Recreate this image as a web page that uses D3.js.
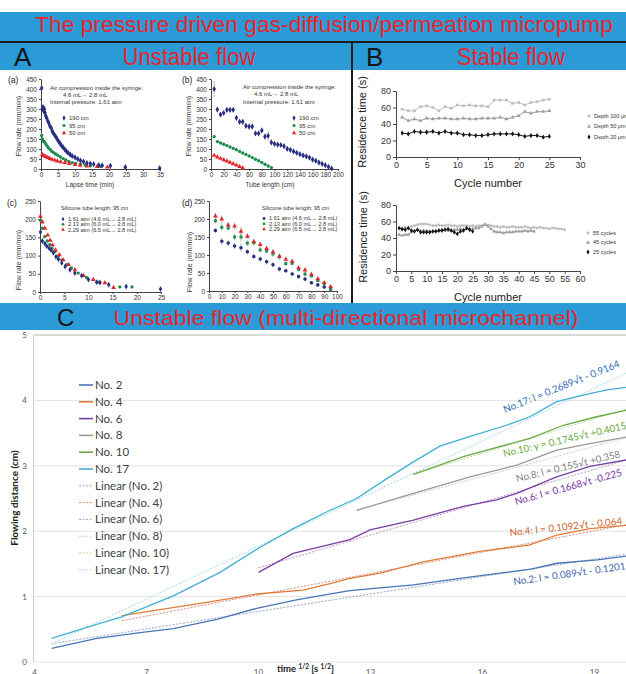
<!DOCTYPE html>
<html>
<head>
<meta charset="utf-8">
<script src="https://cdn.jsdelivr.net/npm/d3@7"></script>
<style>
body { margin: 0; background: #fff; }
svg { display: block; }
text { font-family: "Liberation Sans", Arial, sans-serif; }
.cfont { font-family: Lato, "Open Sans", sans-serif; }
</style>
</head>
<body>
<div id="chart"></div>
<script>
// ---------- panel A (a): flow rate vs lapse time ----------
const a190 = [[0.2,405],[0.4,300],[0.6,310],[0.8,290],[1.0,300],[1.2,280],[1.4,265],[1.7,255],[2.0,240],[2.3,230],[2.6,215],[3.0,205],[3.3,190],[3.6,180],[4.0,170],[4.4,160],[4.8,148],[5.2,138],[5.6,128],[6.0,118],[6.5,108],[7.0,98],[7.5,88],[8.0,80],[8.6,72],[9.2,65],[10.0,58],[10.8,50],[11.6,42],[12.5,37],[13.5,30],[14.5,27],[15.5,24],[17.0,20],[18.0,18],[20.4,16],[24.8,10],[34.9,4]];
const a95 = [[0.2,168],[0.4,150],[0.7,140],[1.0,135],[1.4,125],[1.8,115],[2.2,105],[2.7,97],[3.2,88],[3.7,82],[4.3,75],[5.0,68],[5.7,60],[6.5,52],[7.3,45],[8.2,38],[9.2,32],[10.2,28],[11.6,24],[13.0,20],[14.5,16],[17.5,12],[24.8,8]];
const a50 = [[0.4,72],[0.9,66],[1.4,62],[2.0,57],[2.6,52],[3.2,48],[4.0,44],[4.8,40],[5.8,36],[7.0,32],[8.3,27],[10.0,22],[11.5,18],[13.5,15],[16.5,12],[19.5,9]];
const aLegend = ['190 cm', '95 cm', '50 cm'];
const aNotes = ['Air compression inside the syringe:', '4.6 mL\u2192 2.8 mL', 'Internal pressure: 1.61 atm'];

// ---------- panel A (b): flow rate vs tube length ----------
const bLen190 = [5,10,15,20,25,30,35,40,45,50,55,60,65,70,75,80,85,90,95,100,105,110,115,120,125,130,135,140,145,150,155,160,165,170,175,180,185,190];
const b190 = [400,297,272,280,296,296,296,256,236,236,216,212,212,178,178,193,162,166,133,126,122,120,114,101,96,88,81,74,68,63,57,47,41,32,26,19,11,3];
const b190err = [40,0,0,5,8,8,8,12,14,14,12,15,15,10,10,12,15,25,14,8,6,6,5,5,5,4,4,4,3,3,3,3,3,2,2,2,2,2];
const bLen95 = [5,10,15,20,25,30,35,40,45,50,55,60,65,70,75,80,85,90,95];
const b95 = [162,137,130,124,117,110,103,96,88,80,73,65,57,49,41,33,24,15,7];
const bLen50 = [5,10,15,20,25,30,35,40,45,50];
const b50 = [68,60,53,46,40,33,26,19,12,5];

// ---------- panel A (c): flow rate vs lapse time, 3 pressures ----------
const c161 = [[0.1,165],[0.5,140],[1,133],[1.4,126],[1.9,120],[2.3,115],[2.75,108],[3.3,97],[3.8,90],[4.5,80],[5.2,70],[6.2,61],[7.2,52],[8.6,45],[10,34],[11.7,27],[12.4,26],[14.2,20],[17.8,15],[24.9,8]];
const c213 = [[0.1,197],[0.5,175],[1,152],[1.5,140],[2,130],[2.5,120],[3.1,111],[3.8,99],[4.5,88],[5.5,75],[6.5,66],[7.9,52],[9.6,40],[12,27],[16.5,14],[19,14]];
const c229 = [[0.1,208],[0.5,192],[1,175],[1.6,156],[2.1,142],[2.6,129],[3.2,115],[4,102],[4.8,88],[5.9,75],[7.2,61],[9,45],[11,34],[13.4,25],[15.2,12]];
const cdLegend = ['1.61 atm (4.6 mL\u2192 2.8 mL)', '2.13 atm (6.0 mL\u2192 2.8 mL)', '2.29 atm (6.5 mL\u2192 2.8 mL)'];
const cdNote = 'Silicone tube length: 95 cm';

// ---------- panel A (d): flow rate vs tube length, 3 pressures ----------
const dLen = [5,10,15,20,25,30,35,40,45,50,55,60,65,70,75,80,85,90,95];
const d161 = [168,138,133,125,120,109,96,89,81,73,61,56,47,40,33,23,17,11,5];
const d213 = [195,177,175,150,150,133,134,114,111,103,95,76,77,60,47,42,29,20,7];
const d229 = [208,200,183,180,166,152,137,129,118,108,96,88,82,64,58,46,34,23,12];
const dErr = [8,10,8,10,12,8,8,8,8,8,8,6,6,6,6,5,5,5,4];

// ---------- panel B: residence time vs cycle number ----------
const depth100 = [58,56,56,61,62,60,56,61,59,63,62,63,62,62,61,69,69,69,65,66,63,66,67,69,70];
const depth50 = [48,44,46,44,47,46,47,47,46,46,47,46,46,47,47,47,48,46,48,50,55,53,55,55,56];
const depth20 = [29,28,31,30,30,31,29,31,29,29,27,27,26,26,27,28,28,28,28,27,25,26,26,24,25];
const depthLegend = ['Depth 100 \u03bcm', 'Depth 50 \u03bcm', 'Depth 20 \u03bcm'];
const cyc55 = [52,50,53,52,54,55,56,57,57,57,56,55,55,56,55,55,56,55,55,54,55,55,55,54,55,54,55,55,57,56,55,54,54,53,54,53,53,54,53,53,53,54,53,52,53,52,53,52,52,51,52,52,51,51,50];
const cyc45 = [44,43,44,44,47,49,50,49,49,49,48,48,49,49,50,50,49,49,50,50,51,50,51,51,51,52,52,54,56,54,51,48,47,47,46,47,47,47,48,48,48,49,48,49,48];
const cyc25 = [52,51,50,52,49,48,50,47,47,47,47,48,48,49,49,50,51,49,47,45,48,49,52,50,48];
const cycLegend = ['55 cycles', '45 cycles', '25 cycles'];

// ---------- panel C: flowing distance vs sqrt(time) ----------
const no2 = [[4.46,0.21],[5.67,0.36],[6.83,0.45],[7.72,0.51],[8.88,0.65],[9.95,0.82],[11.02,0.95],[11.93,1.04],[12.45,1.09],[14.15,1.18],[15.7,1.30],[17.3,1.42],[18.0,1.51],[19.08,1.56],[19.86,1.62]];
const no4 = [[6.34,0.71],[7.45,0.81],[8.70,0.92],[9.95,1.04],[11.2,1.10],[11.92,1.20],[12.45,1.28],[13.26,1.36],[14.41,1.53],[15.93,1.69],[17.27,1.79],[17.99,1.94],[18.88,2.04],[19.86,2.09]];
const no6 = [[10.0,1.37],[10.93,1.66],[12.45,1.87],[12.99,2.02],[14.15,2.17],[15.49,2.38],[16.38,2.48],[16.92,2.58],[17.99,2.83],[18.88,2.99],[19.86,3.09]];
const no8 = [[12.63,2.32],[14.15,2.58],[15.67,2.83],[16.92,3.01],[17.99,3.24],[18.88,3.34],[19.86,3.44]];
const no10 = [[14.15,2.87],[15.49,3.14],[17.27,3.42],[18.17,3.62],[19.06,3.75],[19.86,3.85]];
const no17 = [[4.46,0.36],[5.40,0.53],[6.34,0.69],[7.72,1.01],[8.97,1.37],[10.0,1.74],[10.93,2.04],[11.92,2.32],[12.63,2.50],[13.43,2.80],[14.15,3.06],[14.86,3.30],[15.67,3.45],[16.65,3.62],[17.27,3.75],[17.99,3.98],[18.7,4.08],[19.33,4.16],[19.86,4.20]];
// trend lines, end points
const lin2 = [[4.46,0.28],[19.86,1.65]];
const lin4 = [[6.34,0.63],[19.86,2.10]];
const lin6 = [[10.0,1.44],[19.86,3.09]];
const lin8 = [[12.63,2.32],[19.86,3.43]];
const lin10 = [[14.15,2.87],[19.86,3.87]];
const lin17 = [[4.46,0.28],[19.86,4.42]];
const cNames = ['No. 2','No. 4','No. 6','No. 8','No. 10','No. 17'];
const cEquations = ['No.17: l = 0.2689\u221at  - 0.9164', 'No.10: y = 0.1745\u221at  +0.4015', 'No.8: l = 0.155\u221at  +0.358', 'No.6: l = 0.1668\u221at  -0.225', 'No.4: l = 0.1092\u221at  - 0.064', 'No.2: l = 0.089\u221at  - 0.1201'];
const cXTicks = [4,7,10,13,16,19];
const cYTicks = [0,1,2,3,4,5];

const W = 626, H = 674;
const blue = '#2B9BD8', red = '#E8262B';
const navy = '#2A2E80', green = '#1B8C4B', redm = '#E4262C';

const svg = d3.select('#chart').append('svg').attr('width', W).attr('height', H);

// ---------- banners ----------
svg.append('rect').attr('x',0).attr('y',12).attr('width',W).attr('height',29).attr('fill',blue);
svg.append('rect').attr('x',0).attr('y',41).attr('width',W).attr('height',2).attr('fill','#1d1d1f');
svg.append('rect').attr('x',0).attr('y',43).attr('width',W).attr('height',27).attr('fill',blue);
svg.append('rect').attr('x',0).attr('y',303).attr('width',W).attr('height',27).attr('fill',blue);
svg.append('line').attr('x1',352).attr('x2',352).attr('y1',41).attr('y2',303).attr('stroke','#1d1d1f').attr('stroke-width',2);

svg.append('text').attr('x',324).attr('y',32).attr('text-anchor','middle').attr('font-size',22)
   .attr('fill',red).attr('textLength',578).attr('lengthAdjust','spacingAndGlyphs')
   .text('The pressure driven gas-diffusion/permeation micropump');
svg.append('text').attr('x',14).attr('y',66).attr('font-size',26).attr('fill','#151515').text('A');
svg.append('text').attr('x',189).attr('y',65).attr('text-anchor','middle').attr('font-size',23)
   .attr('fill',red).attr('textLength',133).attr('lengthAdjust','spacingAndGlyphs').text('Unstable flow');
svg.append('text').attr('x',366).attr('y',66).attr('font-size',26).attr('fill','#151515').text('B');
svg.append('text').attr('x',511).attr('y',65).attr('text-anchor','middle').attr('font-size',23)
   .attr('fill',red).attr('textLength',108).attr('lengthAdjust','spacingAndGlyphs').text('Stable flow');
svg.append('text').attr('x',57).attr('y',326).attr('font-size',24).attr('fill','#151515').text('C');
svg.append('text').attr('x',346).attr('y',325).attr('text-anchor','middle').attr('font-size',21)
   .attr('fill',red).attr('textLength',465).attr('lengthAdjust','spacingAndGlyphs')
   .text('Unstable flow (multi-directional microchannel)');

// ---------- helpers ----------
function smallPanel(o) {
  const x = d3.scaleLinear().domain(o.xDom).range([o.left, o.right]);
  const y = d3.scaleLinear().domain(o.yDom).range([o.bottom, o.top]);
  const g = svg.append('g');
  g.append('g').attr('transform','translate(0,' + o.bottom + ')')
   .call(d3.axisBottom(x).tickValues(o.xTicks).tickSize(o.tick || 2).tickSizeOuter(0).tickPadding(1.5))
   .call(s => s.selectAll('text').attr('font-size', o.fs).attr('fill','#333').attr('font-family','Liberation Sans, Arial'))
   .call(s => s.selectAll('line,path').attr('stroke','#444'));
  g.append('g').attr('transform','translate(' + o.left + ',0)')
   .call(d3.axisLeft(y).tickValues(o.yTicks).tickSize(o.tick || 2).tickSizeOuter(0).tickPadding(2))
   .call(s => s.selectAll('text').attr('font-size', o.fs).attr('fill','#333').attr('font-family','Liberation Sans, Arial'))
   .call(s => s.selectAll('line,path').attr('stroke','#444'));
  return {x: x, y: y, g: g};
}

function marks(p, data, type, color, size, err) {
  if (err) {
    p.g.selectAll(null).data(data).enter().append('line')
      .attr('x1', d => p.x(d[0])).attr('x2', d => p.x(d[0]))
      .attr('y1', (d, i) => p.y(d[1] + err[i])).attr('y2', (d, i) => p.y(d[1] - err[i]))
      .attr('stroke', '#888').attr('stroke-width', 0.6);
  }
  p.g.selectAll(null).data(data).enter().append('path')
    .attr('d', d3.symbol().type(type).size(size))
    .attr('transform', d => 'translate(' + p.x(d[0]) + ',' + p.y(d[1]) + ')')
    .attr('fill', color);
}

function note(x, y, txt, fs, anchor, color) {
  return svg.append('text').attr('x', x).attr('y', y).attr('font-size', fs)
    .attr('text-anchor', anchor || 'start').attr('fill', color || '#333').text(txt);
}

function legendRows(x, ys, labels, types, colors, fs, size) {
  labels.forEach((l, i) => {
    svg.append('path').attr('d', d3.symbol().type(types[i]).size(size))
      .attr('transform', 'translate(' + x + ',' + ys[i] + ')').attr('fill', colors[i]);
    note(x + 5, ys[i] + fs * 0.35, l, fs);
  });
}

function zip(xs, ys) { return xs.map((v, i) => [v, ys[i]]); }

const symA = [d3.symbolDiamond, d3.symbolCircle, d3.symbolTriangle];
const colA = [navy, green, redm];

// ---------- (a) ----------
const pa = smallPanel({left:41, right:160, top:79, bottom:169, xDom:[0,35], yDom:[0,450],
  xTicks:d3.range(0,36,5), yTicks:d3.range(0,451,50), fs:6.5});
marks(pa, a95, d3.symbolCircle, green, 9);
marks(pa, a50, d3.symbolTriangle, redm, 10);
marks(pa, a190, d3.symbolDiamond, navy, 11);
note(8, 83, '(a)', 8.5, 'start', '#222');
note(50, 90, aNotes[0], 6);
note(63, 96.5, aNotes[1], 6);
note(50, 104, aNotes[2], 6);
legendRows(64, [118, 125.5, 133], aLegend, symA, colA, 6, 8);
note(90, 187, 'Lapse time (min)', 6.5, 'middle');
note(0, 0, 'Flow rate (mm/min)', 7, 'middle').attr('transform', 'translate(21,126) rotate(-90)');

// ---------- (b) ----------
const pb = smallPanel({left:211, right:338, top:79, bottom:169, xDom:[0,200], yDom:[0,450],
  xTicks:d3.range(0,201,20), yTicks:d3.range(0,451,50), fs:6.5});
marks(pb, zip(bLen95, b95), d3.symbolCircle, green, 9);
marks(pb, zip(bLen50, b50), d3.symbolTriangle, redm, 10);
marks(pb, zip(bLen190, b190), d3.symbolDiamond, navy, 11, b190err);
note(182, 83, '(b)', 8.5, 'start', '#222');
note(243, 89, aNotes[0], 6);
note(254, 95.5, aNotes[1], 6);
note(243, 104, aNotes[2], 6);
legendRows(294, [118, 125.5, 133], aLegend, symA, colA, 6, 8);
note(270, 187, 'Tube length (cm)', 6.5, 'middle');
note(0, 0, 'Flow rate (mm/min)', 7, 'middle').attr('transform', 'translate(191,126) rotate(-90)');

// ---------- (c) ----------
const pc = smallPanel({left:40, right:161, top:201, bottom:292, xDom:[0,25], yDom:[0,250],
  xTicks:d3.range(0,26,5), yTicks:d3.range(0,251,50), fs:6.5});
marks(pc, c213, d3.symbolCircle, green, 9);
marks(pc, c229, d3.symbolTriangle, redm, 10);
marks(pc, c161, d3.symbolDiamond, navy, 10);
note(7, 206, '(c)', 8.5, 'start', '#222');
note(61, 210, cdNote, 5.6);
legendRows(63, [219, 224.3, 229.6], cdLegend, symA, colA, 5.6, 6);
note(0, 0, 'Flow rate (mm/min)', 7, 'middle').attr('transform', 'translate(21,260) rotate(-90)');

// ---------- (d) ----------
const pd = smallPanel({left:209, right:337, top:201, bottom:291, xDom:[0,100], yDom:[0,250],
  xTicks:d3.range(0,101,10), yTicks:d3.range(0,251,50), fs:6.5});
marks(pd, zip(dLen, d161), d3.symbolCircle, navy, 10, dErr);
marks(pd, zip(dLen, d213), d3.symbolSquare, green, 9, dErr);
marks(pd, zip(dLen, d229), d3.symbolTriangle, redm, 10, dErr);
note(182, 206, '(d)', 8.5, 'start', '#222');
note(262, 210, cdNote, 5.6);
legendRows(264, [218.5, 223.8, 229.1], cdLegend, [d3.symbolCircle, d3.symbolSquare, d3.symbolTriangle], colA, 5.6, 6);
note(0, 0, 'Flow rate (mm/min)', 7, 'middle').attr('transform', 'translate(192,262) rotate(-90)');

// ---------- B panels ----------
function lineSeries(p, vals, type, color, size) {
  const pts = vals.map((v, i) => [i + 1, v]);
  p.g.append('path').datum(pts)
    .attr('d', d3.line().x(d => p.x(d[0])).y(d => p.y(d[1])))
    .attr('fill', 'none').attr('stroke', color).attr('stroke-width', 1);
  marks(p, pts, type, color, size);
}
const symB = [d3.symbolSquare, d3.symbolTriangle, d3.symbolDiamond];
const colB = ['#BDBDBD', '#9C9C9C', '#111111'];

const pB1 = smallPanel({left:396, right:580, top:91, bottom:157, xDom:[0,30], yDom:[0,80],
  xTicks:d3.range(0,31,5), yTicks:d3.range(0,81,20), fs:9, tick:3});
lineSeries(pB1, depth100, symB[0], colB[0], 7);
lineSeries(pB1, depth50, symB[1], colB[1], 7);
lineSeries(pB1, depth20, symB[2], colB[2], 8);
legendRows(589, [116, 126.5, 137], depthLegend, symB, colB, 5.5, 7);
note(488, 187, 'Cycle number', 11, 'middle', '#222');
note(0, 0, 'Residence time (s)', 11, 'middle', '#222').attr('transform', 'translate(366,122) rotate(-90)');

const pB2 = smallPanel({left:396, right:580, top:205, bottom:271, xDom:[0,60], yDom:[0,80],
  xTicks:d3.range(0,61,5), yTicks:d3.range(0,81,20), fs:9, tick:3});
lineSeries(pB2, cyc55, symB[0], colB[0], 6);
lineSeries(pB2, cyc45, symB[1], colB[1], 6);
lineSeries(pB2, cyc25, symB[2], colB[2], 7);
legendRows(588, [233, 242.5, 252], cycLegend, symB, colB, 5.5, 7);
note(488, 301, 'Cycle number', 11, 'middle', '#222');
note(0, 0, 'Residence time (s)', 11, 'middle', '#222').attr('transform', 'translate(367,237) rotate(-90)');

// ---------- C panel ----------
const cx = d3.scaleLinear().domain([4, 19.86]).range([34.5, 626.5]);
const cy = d3.scaleLinear().domain([0, 5]).range([662, 335]);
const gc = svg.append('g');
gc.selectAll(null).data(cYTicks).enter().append('line')
  .attr('x1', 33).attr('x2', W).attr('y1', d => cy(d)).attr('y2', d => cy(d))
  .attr('stroke', d => d === 5 ? '#CFCFCF' : '#DCDCDC').attr('stroke-width', d => d === 5 ? 1.6 : 0.8);
gc.append('line').attr('x1', 33.5).attr('x2', 33.5).attr('y1', cy(5)).attr('y2', cy(0)).attr('stroke', '#D0D0D0');
gc.selectAll(null).data(cYTicks).enter().append('text').attr('class', 'cfont')
  .attr('x', 27).attr('y', d => cy(d) + 3).attr('text-anchor', 'end').attr('font-size', 8).attr('fill', '#555')
  .text(d => d);
gc.selectAll(null).data(cXTicks).enter().append('text').attr('class', 'cfont')
  .attr('x', d => cx(d)).attr('y', 675).attr('text-anchor', 'middle').attr('font-size', 8).attr('fill', '#555')
  .text(d => d);

const solid = [no2, no4, no6, no8, no10, no17];
const trends = [lin2, lin4, lin6, lin8, lin10, lin17];
const cCol = ['#4A74B6', '#E07B39', '#7A3FA0', '#9A9A9A', '#6DAA45', '#3FAFD3'];
const tCol = ['#9AA6C8', '#E08A80', '#B79AC8', '#C8C8C8', '#B8D6A8', '#A6D8E8'];
const ln = d3.line().x(d => cx(d[0])).y(d => cy(d[1]));
trends.forEach((t, i) => {
  gc.append('path').datum(t).attr('d', ln).attr('fill', 'none')
    .attr('stroke', tCol[i]).attr('stroke-width', 1).attr('stroke-dasharray', '2,1.5');
});
solid.forEach((s, i) => {
  gc.append('path').datum(s).attr('d', ln).attr('fill', 'none')
    .attr('stroke', cCol[i]).attr('stroke-width', 1.3);
});

// legend
const legY = d3.range(12).map(i => 385 + i * 16.8);
const legNames = cNames.concat(cNames.map(n => 'Linear (' + n + ')'));
legNames.forEach((n, i) => {
  const dashed = i >= 6;
  gc.append('line').attr('x1', 79).attr('x2', 93).attr('y1', legY[i]).attr('y2', legY[i])
    .attr('stroke', dashed ? tCol[i - 6] : cCol[i]).attr('stroke-width', dashed ? 1 : 1.6)
    .attr('stroke-dasharray', dashed ? '2,1.5' : null);
  gc.append('text').attr('class', 'cfont').attr('x', 95).attr('y', legY[i] + 4)
    .attr('font-size', 11.5).attr('fill', '#404040').text(n);
});

// equations
const eqPos = [[505, 413, -22], [504, 457, -13], [517, 482, -13.5], [516, 505, -15.5], [510, 536, -6], [514, 585, -8]];
const eqCol = ['#2F6DB5', '#6AAA42', '#808080', '#7030A0', '#C8642A', '#3C5FA8'];
cEquations.forEach((e, i) => {
  gc.append('text').attr('class', 'cfont').attr('font-size', 9.8).attr('fill', eqCol[i])
    .attr('transform', 'translate(' + eqPos[i][0] + ',' + eqPos[i][1] + ') rotate(' + eqPos[i][2] + ')')
    .text(e);
});

// axis titles
const xt = gc.append('text').attr('class', 'cfont').attr('x', 277).attr('y', 672)
  .attr('font-size', 9.5).attr('font-weight', 'bold').attr('fill', '#222');
xt.append('tspan').text('time ');
xt.append('tspan').attr('font-size', 6.5).attr('dy', -3.5).text('1/2');
xt.append('tspan').attr('dy', 3.5).text(' [s ');
xt.append('tspan').attr('font-size', 6.5).attr('dy', -3.5).text('1/2');
xt.append('tspan').attr('dy', 3.5).text(']');
gc.append('text').attr('class', 'cfont').attr('font-size', 10).attr('font-weight', 'bold').attr('fill', '#222')
  .attr('text-anchor', 'middle').attr('transform', 'translate(18,498) rotate(-90)').text('Flowing distance (cm)');
</script>
</body>
</html>
